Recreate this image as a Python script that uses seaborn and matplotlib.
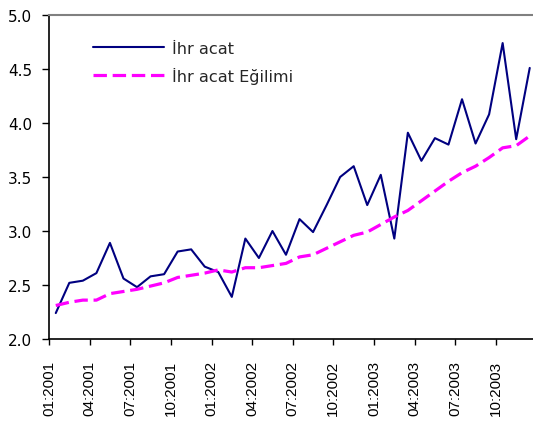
import matplotlib
matplotlib.use("Agg")
import matplotlib.pyplot as plt
import pandas as pd
import seaborn as sns

# Monthly export index, 01:2001 - 12:2003
AYLAR = [f"{m:02d}:{y}" for y in (2001, 2002, 2003) for m in range(1, 13)]
IHRACAT = [
    2.24, 2.52, 2.54, 2.61, 2.89, 2.56, 2.48, 2.58, 2.60, 2.81, 2.83, 2.67,
    2.62, 2.39, 2.93, 2.75, 3.00, 2.78, 3.11, 2.99, 3.24, 3.50, 3.60, 3.24,
    3.52, 2.93, 3.91, 3.65, 3.86, 3.80, 4.22, 3.81, 4.08, 4.74, 3.85, 4.51,
]
EGILIM = [
    2.31, 2.34, 2.36, 2.36, 2.42, 2.44, 2.46, 2.49, 2.52, 2.57, 2.59, 2.61,
    2.64, 2.62, 2.66, 2.66, 2.68, 2.70, 2.76, 2.78, 2.84, 2.90, 2.96, 2.99,
    3.06, 3.13, 3.19, 3.28, 3.37, 3.46, 3.54, 3.60, 3.68, 3.77, 3.79, 3.88,
]
Y_TICKS = [2.0, 2.5, 3.0, 3.5, 4.0, 4.5, 5.0]

sns.set_style("ticks")
plt.rcParams["font.family"] = ["DejaVu Sans"]

df = pd.DataFrame({"ay": range(len(AYLAR)), "ihracat": IHRACAT, "egilim": EGILIM})

fig = plt.figure(figsize=(5.33, 4.27), dpi=100)
ax = fig.add_axes([49 / 533, 87 / 427, 487.5 / 533, 324 / 427])

sns.lineplot(data=df, x="ay", y="ihracat", ax=ax, color="#000080", linewidth=1.5,
             label="İhr acat")
sns.lineplot(data=df, x="ay", y="egilim", ax=ax, color="#FF00FF", linewidth=2.3,
             dashes=False, label="İhr acat Eğilimi")
ax.lines[1].set_dashes([4.2, 1.8])

ax.set_xlim(-0.5, len(AYLAR) - 0.5)
ax.set_ylim(2.0, 5.0)
ax.set_yticks(Y_TICKS)
ax.set_yticklabels([f"{v:.1f}" for v in Y_TICKS], fontsize=11)
tick_pos = [i - 0.5 for i in range(0, len(AYLAR), 3)]
ax.set_xticks(tick_pos)
ax.set_xticklabels(AYLAR[::3], rotation=90, fontsize=11, family="Liberation Sans")
ax.tick_params(axis="y", length=5, width=1, pad=7, colors="black")
ax.tick_params(axis="x", length=4, width=1, pad=11, colors="black")
ax.set_xlabel("")
ax.set_ylabel("")

ax.spines["top"].set_color("#808080")
ax.spines["top"].set_linewidth(1.5)
ax.spines["right"].set_visible(False)
for s in ("left", "bottom"):
    ax.spines[s].set_color("black")
    ax.spines[s].set_linewidth(1.2)

leg = ax.legend(loc="upper left", bbox_to_anchor=(0.06, 0.965), frameon=False,
                fontsize=11.6, handlelength=4.4, handletextpad=0.55, labelspacing=0.7)

fig.savefig("out.png", dpi=100)
